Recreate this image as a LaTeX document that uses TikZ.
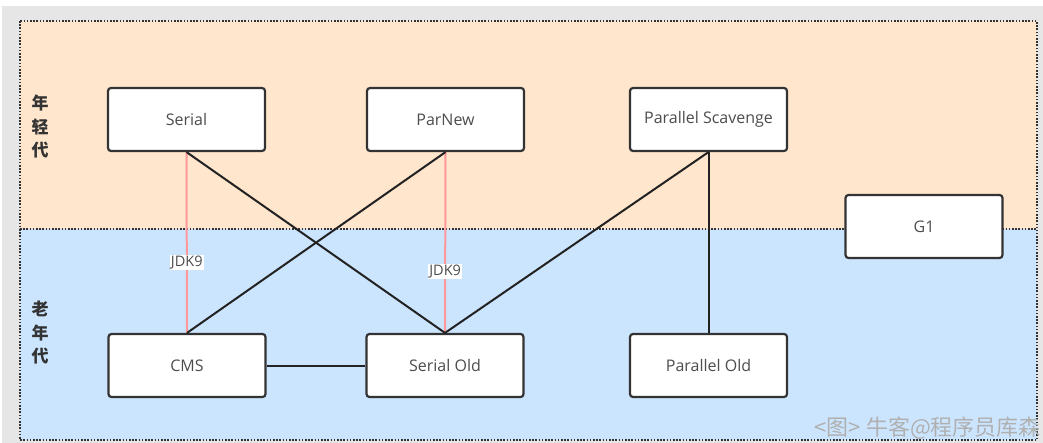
\documentclass[tikz,border=0pt]{standalone}
\usepackage{fontspec}
\setmainfont{Open Sans}
\newfontfamily\cjk{Noto Sans CJK SC}
\definecolor{bggray}{HTML}{E6E6E6}
\definecolor{younger}{HTML}{FFE6CC}
\definecolor{older}{HTML}{CCE5FF}
\definecolor{borderc}{HTML}{333333}
\definecolor{textc}{HTML}{4D4D4D}
\definecolor{pinkc}{HTML}{FF9999}
\definecolor{linec}{HTML}{222222}
\definecolor{wmark}{HTML}{B0B0B0}
\begin{document}
\begin{tikzpicture}[x=1pt,y=-1pt,
  gc/.style={draw=borderc, line width=2.2pt, rounded corners=3pt, fill=white,
    minimum width=157pt, minimum height=63pt, inner sep=0pt,
    font=\fontsize{16}{18}\selectfont, text=textc},
  region/.style={draw=borderc, line width=1.6pt, dash pattern=on 1.6pt off 1.6pt},
  blackedge/.style={draw=linec, line width=2pt},
  pinkedge/.style={draw=pinkc, line width=2pt},
  jdk/.style={fill=white, inner sep=1pt, font=\fontsize{14.5}{16}\selectfont, text=textc},
  genlabel/.style={align=center, font=\cjk\bfseries\fontsize{17}{23.5}\selectfont, text=borderc}
]
\useasboundingbox (0,0) rectangle (1043,443);
\fill[white] (0,0) rectangle (1043,443);
\fill[bggray] (2,6) rectangle (1043,443);
\fill[younger] (20,21) rectangle (1037,229);
\fill[older] (20,229) rectangle (1037,440);
\draw[region] (20,21) rectangle (1037,229);
\draw[region] (20,229) rectangle (1037,440);

\node[genlabel] (young) at (40,127) {年\\轻\\代};
\node[genlabel] (old) at (40,333) {老\\年\\代};

\node[gc] (serial) at (186.5,119.5) {Serial};
\node[gc] (parnew) at (445.5,119.5) {ParNew};
\node[gc] (ps) at (708.5,119.5) {Parallel Scavenge};
\node[gc] (cms) at (187,365.5) {CMS};
\node[gc] (so) at (445,365.5) {Serial Old};
\node[gc] (po) at (708.5,365.5) {Parallel Old};

\draw[pinkedge] (serial.south) -- node[jdk, pos=0.61] (jdka) {JDK9} (cms.north);
\draw[pinkedge] (parnew.south) -- node[jdk, pos=0.66] (jdkb) {JDK9} (so.north);
\draw[blackedge] (serial.south) -- (so.north);
\draw[blackedge] (parnew.south) -- (cms.north);
\draw[blackedge] (ps.south) -- (so.north);
\draw[blackedge] (ps.south) -- (po.north);
\draw[blackedge] (cms.east) -- (so.west);

\node[gc] (g1) at (924,226.5) {G1};

\node[anchor=east, inner sep=0pt, font=\cjk\fontsize{22}{24}\selectfont, text=wmark] (wm) at (1041,428) {<图> 牛客@程序员库森};
\end{tikzpicture}
\end{document}
